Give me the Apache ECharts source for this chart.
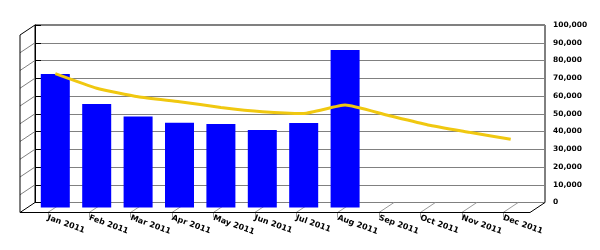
<!DOCTYPE html>
<html><head><meta charset="utf-8">
<script src="https://cdn.jsdelivr.net/npm/echarts@6/dist/echarts.min.js"></script>
<style>html,body{margin:0;padding:0;background:#fff}#c{width:600px;height:250px}</style>
</head><body><div id="c"></div>
<script>
var categories = ['Jan 2011','Feb 2011','Mar 2011','Apr 2011','May 2011','Jun 2011','Jul 2011','Aug 2011','Sep 2011','Oct 2011','Nov 2011','Dec 2011'];
var barValues = [75200, 58300, 51200, 47800, 47000, 43700, 47600, 88700, null, null, null, null];
var lineValues = [75400, 67200, 62400, 59600, 56400, 54000, 53000, 57700, 52100, 46500, 42400, 38400];
var yTicks = [0, 10000, 20000, 30000, 40000, 50000, 60000, 70000, 80000, 90000, 100000];

var DX = 15, DY = 10;
var backL = 35, backT = 25, backW = 510, backH = 177.5;
var frontL = 20, frontB = backT + backH + DY, frontR = backL + backW - DX;
var serL = 34.6, serW = 496.8;
var fnt = 'DejaVu Sans';

function fmt(v){ return String(v).replace(/\B(?=(\d{3})+(?!\d))/g, ','); }

var chart = echarts.init(document.getElementById('c'), null, {renderer:'canvas'});
chart.setOption({
  animation: false,
  backgroundColor: '#fff',
  grid: [
    {left: backL, top: backT, width: backW, height: backH, show: true, borderColor: '#000', borderWidth: 1, backgroundColor: 'transparent'},
    {left: serL, top: backT + DY/2, width: serW, height: backH},
    {left: serL - DX/2, top: backT + DY, width: serW, height: backH}
  ],
  xAxis: [
    {gridIndex: 0, type: 'value', min: 0, max: 1, show: false},
    {gridIndex: 1, type: 'category', data: categories, show: false, boundaryGap: true},
    {gridIndex: 2, type: 'category', data: categories, boundaryGap: true,
      axisLine: {show: false},
      axisTick: {show: true, alignWithLabel: true, length: 5, lineStyle: {color: '#999'}},
      axisLabel: {rotate: -20, margin: 5, interval: 0, color: '#000', fontFamily: fnt, fontWeight: 'bold', fontSize: 8}}
  ],
  yAxis: [
    {gridIndex: 0, type: 'value', min: 0, max: 100000, interval: 10000, position: 'right',
      axisLine: {show: true, lineStyle: {color: '#000'}},
      axisTick: {show: true, length: 6, lineStyle: {color: '#000'}},
      axisLabel: {margin: 8, color: '#000', fontFamily: fnt, fontWeight: 'bold', fontSize: 7.5, formatter: function(v){ return fmt(v); }},
      splitLine: {show: true, lineStyle: {color: '#808080', width: 1}}},
    {gridIndex: 1, type: 'value', min: 0, max: 100000, show: false},
    {gridIndex: 2, type: 'value', min: 0, max: 100000, show: false}
  ],
  graphic: [
    {type: 'polyline', z: 5, shape: {points: [[frontL, backT + DY], [backL, backT]]}, style: {stroke: '#000', lineWidth: 1, fill: null}},
    {type: 'polyline', z: 5, shape: {points: [[frontL, backT + DY], [frontL, frontB], [frontR, frontB], [backL + backW, backT + backH]]}, style: {stroke: '#000', lineWidth: 1, fill: null}},
    {type: 'polyline', z: 5, shape: {points: [[frontL, frontB], [backL, backT + backH]]}, style: {stroke: '#000', lineWidth: 1, fill: null}}
  ],
  series: [
    {type: 'custom', xAxisIndex: 0, yAxisIndex: 0, data: yTicks.slice(1, yTicks.length - 1), silent: true, z: 1,
      renderItem: function(params, api){
        var p = api.coord([0, api.value(0)]);
        return {type: 'line', shape: {x1: p[0], y1: p[1], x2: p[0] - DX, y2: p[1] + DY}, style: {stroke: '#808080', lineWidth: 1}};
      }},
    {type: 'custom', xAxisIndex: 2, yAxisIndex: 2, data: categories.map(function(c, i){ return [i, 0]; }), silent: true, z: 1,
      renderItem: function(params, api){
        var p = api.coord([api.value(0), 0]);
        return {type: 'line', shape: {x1: p[0], y1: p[1], x2: p[0] + DX, y2: p[1] - DY}, style: {stroke: '#999', lineWidth: 1}};
      }},
    {type: 'bar', xAxisIndex: 1, yAxisIndex: 1, data: barValues, barWidth: 29, itemStyle: {color: '#0000FF'}, z: 3},
    {type: 'line', xAxisIndex: 1, yAxisIndex: 1, data: lineValues, smooth: 0.15, symbol: 'none', z: 4,
      lineStyle: {color: '#F0C810', width: 3}}
  ]
});
</script></body></html>
